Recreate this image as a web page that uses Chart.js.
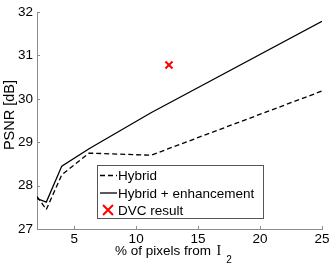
<!DOCTYPE html>
<html>
<head>
<meta charset="utf-8">
<script src="https://cdn.jsdelivr.net/npm/chart.js@4"></script>
<style>
  html, body { margin: 0; padding: 0; background: #fff; }
  #wrap { width: 332px; height: 266px; }
</style>
</head>
<body>
<div id="wrap"><canvas id="myChart" width="332" height="266"></canvas></div>
<script>
// data
const pixelPct = [2, 2.75, 4, 6.2, 11.2, 25];
const hybrid = [27.75, 27.45, 28.25, 28.75, 28.7, 30.18];
const hybridEnh = [27.7, 27.62, 28.45, 28.85, 29.68, 31.79];
const dvcX = [12.65];
const dvcY = [30.78];
const xTicks = [5, 10, 15, 20, 25];
const yTicks = [27, 28, 29, 30, 31, 32];

const FONT = '"Liberation Sans", Arial, sans-serif';
const AXIS_GRAY = '#8c8c8c';

const toPoints = (xs, ys) => xs.map((x, i) => ({ x: x, y: ys[i] }));

// small inward ticks, matlab style
const innerTicks = {
    id: 'innerTicks',
    afterDraw(chart) {
        const ctx = chart.ctx;
        const a = chart.chartArea;
        const xs = chart.scales.x, ys = chart.scales.y;
        ctx.save();
        ctx.strokeStyle = AXIS_GRAY;
        ctx.lineWidth = 1;
        ctx.beginPath();
        xTicks.forEach(v => {
            const px = Math.round(xs.getPixelForValue(v)) + 0.5;
            ctx.moveTo(px, a.bottom);
            ctx.lineTo(px, a.bottom - 3);
        });
        yTicks.forEach(v => {
            const py = Math.round(ys.getPixelForValue(v)) + 0.5;
            ctx.moveTo(a.left, py);
            ctx.lineTo(a.left + 3, py);
        });
        ctx.stroke();
        ctx.restore();
    }
};

// legend box inside the plot + axis titles
const extras = {
    id: 'extras',
    afterDraw(chart) {
        const ctx = chart.ctx;
        const ds = chart.data.datasets;
        ctx.save();
        // legend
        const bx = 97.5, by = 165.5, bw = 166, bh = 53;
        ctx.fillStyle = '#fff';
        ctx.fillRect(bx, by, bw, bh);
        ctx.strokeStyle = '#555';
        ctx.lineWidth = 1;
        ctx.strokeRect(bx, by, bw, bh);
        const rows = [175.5, 193, 210];
        ctx.font = '13.5px ' + FONT;
        ctx.textBaseline = 'middle';
        ds.forEach((d, i) => {
            const y = rows[i];
            if (d.type === 'scatter') {
                ctx.strokeStyle = d.borderColor;
                ctx.lineWidth = 2;
                ctx.beginPath();
                ctx.moveTo(103, y - 5); ctx.lineTo(113, y + 5);
                ctx.moveTo(113, y - 5); ctx.lineTo(103, y + 5);
                ctx.stroke();
            } else {
                ctx.strokeStyle = d.borderColor;
                ctx.lineWidth = d.borderWidth;
                ctx.setLineDash(d.borderDash || []);
                ctx.beginPath();
                ctx.moveTo(100, y); ctx.lineTo(117, y);
                ctx.stroke();
                ctx.setLineDash([]);
            }
            ctx.fillStyle = '#000';
            ctx.fillText(d.label, 118, y + 1);
        });

        // x title with I_2
        ctx.textBaseline = 'alphabetic';
        ctx.font = '13.5px ' + FONT;
        const t = '% of pixels from  ';
        ctx.fillText(t, 115, 255);
        const w = ctx.measureText(t).width;
        ctx.font = '14px "Liberation Serif", "Times New Roman", serif';
        ctx.fillText('I', 113 + w, 255);
        const wi = ctx.measureText('I').width;
        ctx.font = '10px ' + FONT;
        ctx.fillText('2', 113 + w + wi + 5, 263);

        // y title
        ctx.translate(10, 115);
        ctx.rotate(-Math.PI / 2);
        ctx.font = '14.5px ' + FONT;
        ctx.textAlign = 'center';
        ctx.textBaseline = 'middle';
        ctx.fillText('PSNR [dB]', 0, 0);
        ctx.restore();
    }
};

const data = {
    datasets: [
        {
            label: 'Hybrid',
            data: toPoints(pixelPct, hybrid),
            borderColor: '#000',
            borderWidth: 1.3,
            borderDash: [5, 3],
            pointRadius: 0,
            fill: false
        },
        {
            label: 'Hybrid + enhancement',
            data: toPoints(pixelPct, hybridEnh),
            borderColor: '#000',
            borderWidth: 1.3,
            pointRadius: 0,
            fill: false
        },
        {
            type: 'scatter',
            label: 'DVC result',
            data: toPoints(dvcX, dvcY),
            borderColor: '#ff0000',
            backgroundColor: '#ff0000',
            pointStyle: 'crossRot',
            pointRadius: 5,
            borderWidth: 2,
            showLine: false
        }
    ]
};

const config = {
    type: 'line',
    data,
    options: {
        responsive: false,
        animation: false,
        layout: { padding: { left: 0, right: 10, top: 10, bottom: 0 } },
        plugins: {
            legend: { display: false },
            tooltip: { enabled: false }
        },
        scales: {
            x: {
                type: 'linear',
                min: 2,
                max: 25,
                afterBuildTicks: s => { s.ticks = xTicks.map(v => ({ value: v })); },
                afterFit: s => { s.height = 37; },
                grid: { display: false, drawTicks: false },
                border: { display: true, color: AXIS_GRAY, width: 1 },
                ticks: { color: '#000', font: { family: FONT, size: 13.5 }, padding: 2, maxRotation: 0 }
            },
            y: {
                min: 27,
                max: 32,
                afterBuildTicks: s => { s.ticks = yTicks.map(v => ({ value: v })); },
                afterFit: s => { s.width = 37; },
                grid: { display: false, drawTicks: false },
                border: { display: true, color: AXIS_GRAY, width: 1 },
                ticks: { color: '#000', font: { family: FONT, size: 13.5 }, padding: 4 }
            }
        }
    },
    plugins: [innerTicks, extras]
};

const myChart = new Chart(document.getElementById('myChart'), config);
</script>
</body>
</html>
